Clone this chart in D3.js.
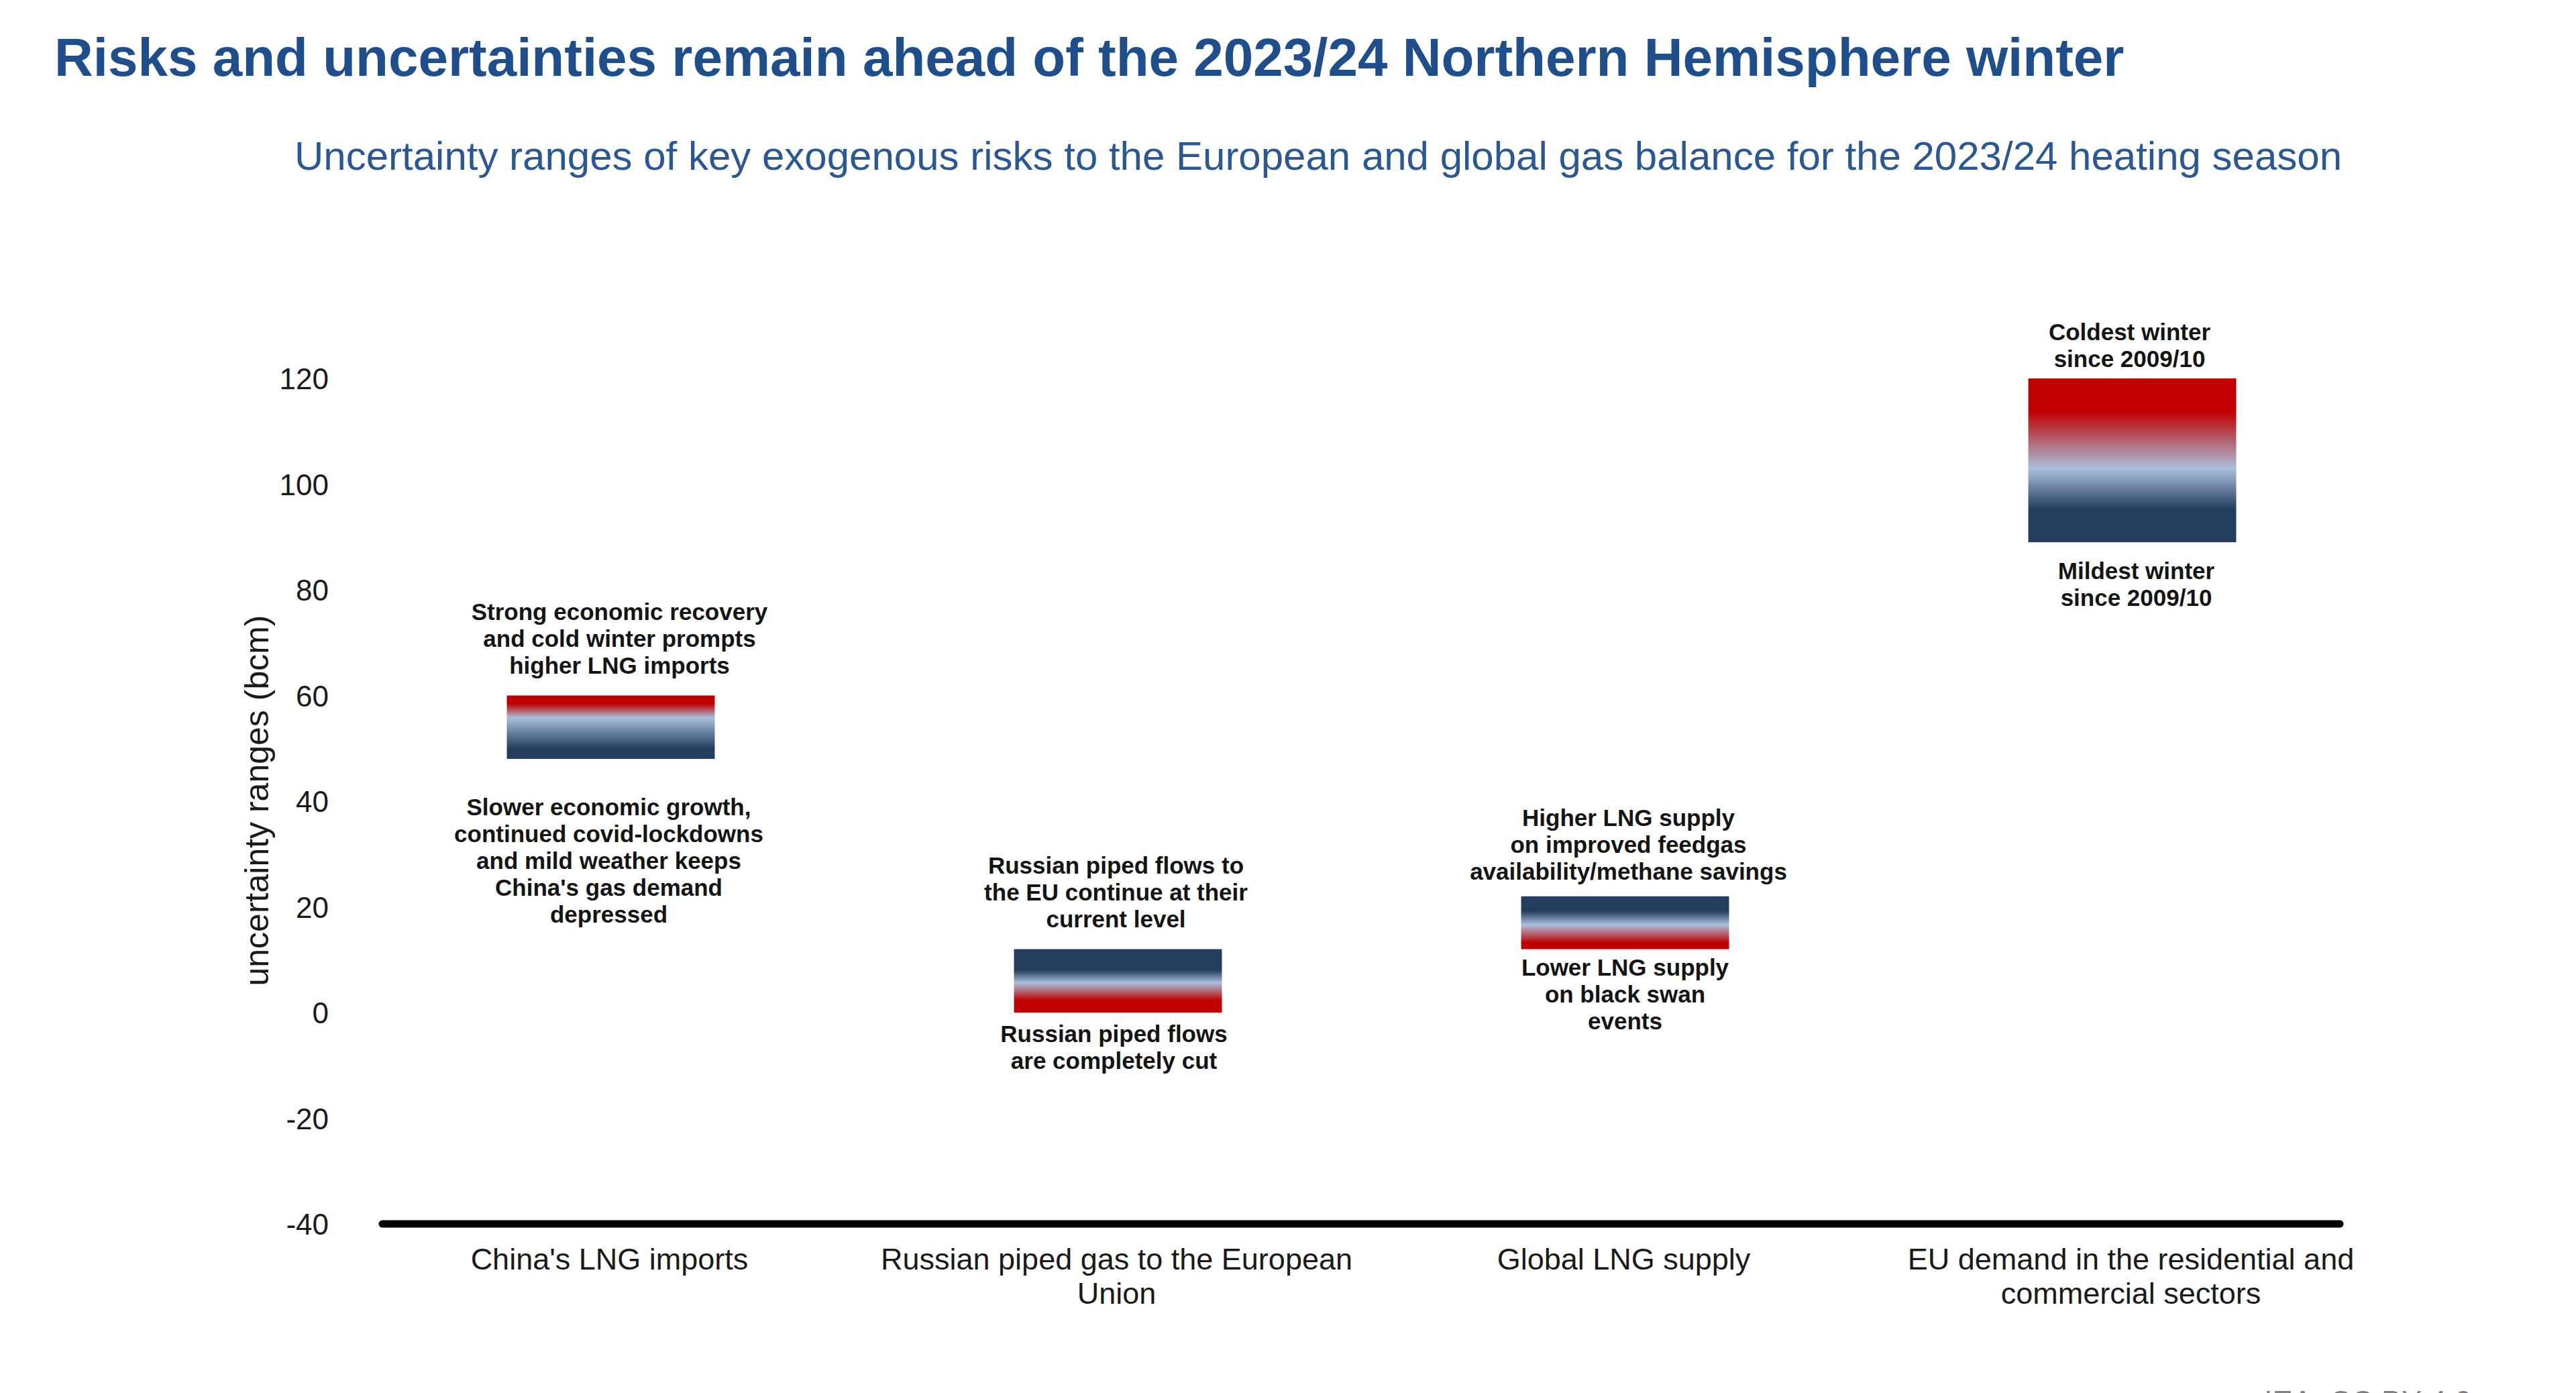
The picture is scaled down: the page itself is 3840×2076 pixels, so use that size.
<!DOCTYPE html>
<html>
<head>
<meta charset="utf-8">
<script src="https://cdn.jsdelivr.net/npm/d3@7"></script>
<style>
  html, body { margin: 0; padding: 0; background: #ffffff; }
  svg { display: block; }
  text { font-family: "Liberation Sans", Arial, Helvetica, sans-serif; }
</style>
</head>
<body>
<svg id="chart" width="3840" height="2076"></svg>
<script>
// ---------------- DATA ----------------
const categories = [
  "China's LNG imports",
  "Russian piped gas to the European Union",
  "Global LNG supply",
  "EU demand in the residential and commercial sectors"
];
const categoryLines = [
  ["China's LNG imports"],
  ["Russian piped gas to the European", "Union"],
  ["Global LNG supply"],
  ["EU demand in the residential and", "commercial sectors"]
];
const rangeLow  = [48, 0, 12, 89];
const rangeHigh = [60, 12, 22, 120];
const highLabels = [
  ["Strong economic recovery", "and cold winter prompts", "higher LNG imports"],
  ["Russian piped flows to", "the EU continue at their", "current level"],
  ["Higher LNG supply", "on improved feedgas", "availability/methane savings"],
  ["Coldest winter", "since 2009/10"]
];
const lowLabels = [
  ["Slower economic growth,", "continued covid-lockdowns", "and mild weather keeps", "China's gas demand", "depressed"],
  ["Russian piped flows", "are completely cut"],
  ["Lower LNG supply", "on black swan", "events"],
  ["Mildest winter", "since 2009/10"]
];
const yTicks = [-40, -20, 0, 20, 40, 60, 80, 100, 120];
const titleText = "Risks and uncertainties remain ahead of the 2023/24 Northern Hemisphere winter";
const subtitleText = "Uncertainty ranges of key exogenous risks to the European and global gas balance for the 2023/24 heating season";
const yAxisTitle = "uncertainty ranges (bcm)";
const sourceText = "IEA. CC BY 4.0.";

// ---------------- LAYOUT / STYLE ----------------
const RED = "#c00000", LIGHT = "#a9c0dd", NAVY = "#243c5d";
const topIsRed = [true, false, false, true];
// gradient shape per bar: [end of solid top colour, light-blue midpoint, start of solid bottom colour]
const gradShape = [[0.13, 0.35, 0.84], [0.33, 0.53, 0.81], [0.28, 0.54, 0.88], [0.20, 0.55, 0.80]];
const topGap = [45, 45, 37, 30];      // last line centre above bar top
const bottomGap = [71, 31, 27, 42];   // first line centre below bar bottom
const topDx = [13, -3, 5, -4];
const bottomDx = [-3, -6, 0, 6];
const annLineH = 40;

const svg = d3.select("#chart");
const defs = svg.append("defs");

const y = d3.scaleLinear().domain([-40, 120]).range([1824, 564]);
const x = d3.scaleBand().domain(categories)
  .range([532.5, 3556.5]).paddingInner(0.59).paddingOuter(0.295);

// Title and subtitle
svg.append("text").attr("x", 81).attr("y", 113)
  .attr("font-size", 80).attr("font-weight", "bold").attr("fill", "#1f4e8c")
  .text(titleText);
svg.append("text").attr("x", 1965).attr("y", 253).attr("text-anchor", "middle")
  .attr("font-size", 60).attr("fill", "#2a5795")
  .text(subtitleText);

// Y axis (labels only)
const yAxis = d3.axisLeft(y).tickValues(yTicks).tickSize(0).tickPadding(0).tickFormat(d => String(d));
const gy = svg.append("g").attr("transform", "translate(490,0)").call(yAxis);
gy.select(".domain").remove();
gy.selectAll("text").attr("font-size", 44).attr("fill", "#1a1a1a")
  .attr("font-family", "'Liberation Sans', Arial, sans-serif")
  .attr("dy", "0.36em");

svg.append("text")
  .attr("transform", "translate(400,1193) rotate(-90)")
  .attr("text-anchor", "middle").attr("font-size", 50).attr("fill", "#1a1a1a")
  .text(yAxisTitle);

// Gradients
categories.forEach((c, i) => {
  const [a, m, b] = gradShape[i];
  const top = topIsRed[i] ? RED : NAVY, bot = topIsRed[i] ? NAVY : RED;
  const g = defs.append("linearGradient").attr("id", "grad" + i)
    .attr("x1", 0).attr("y1", 0).attr("x2", 0).attr("y2", 1);
  [[0, top], [a, top], [m, LIGHT], [b, bot], [1, bot]].forEach(([o, col]) =>
    g.append("stop").attr("offset", o).attr("stop-color", col));
});

// Bars
const data = categories.map((c, i) => ({ c, i, lo: rangeLow[i], hi: rangeHigh[i] }));
svg.append("g").selectAll("rect").data(data).join("rect")
  .attr("x", d => x(d.c))
  .attr("width", x.bandwidth())
  .attr("y", d => y(d.hi))
  .attr("height", d => y(d.lo) - y(d.hi))
  .attr("fill", d => `url(#grad${d.i})`);

// Annotations
const ann = svg.append("g").attr("font-size", 35).attr("font-weight", "bold")
  .attr("fill", "#141414").attr("text-anchor", "middle");
data.forEach(d => {
  const cx = x(d.c) + x.bandwidth() / 2;
  const hl = highLabels[d.i], n = hl.length;
  hl.forEach((line, k) => {
    const centre = y(d.hi) - topGap[d.i] - (n - 1 - k) * annLineH;
    ann.append("text").attr("x", cx + topDx[d.i]).attr("y", centre + 12.5).text(line);
  });
  lowLabels[d.i].forEach((line, k) => {
    const centre = y(d.lo) + bottomGap[d.i] + k * annLineH;
    ann.append("text").attr("x", cx + bottomDx[d.i]).attr("y", centre + 12.5).text(line);
  });
});

// Baseline axis line at -40
svg.append("line").attr("x1", 570).attr("x2", 3488)
  .attr("y1", y(-40)).attr("y2", y(-40))
  .attr("stroke", "#000").attr("stroke-width", 11).attr("stroke-linecap", "round");

// Category labels
const xl = svg.append("g").attr("font-size", 45).attr("fill", "#1a1a1a").attr("text-anchor", "middle");
categories.forEach((c, i) => {
  categoryLines[i].forEach((line, k) => {
    xl.append("text").attr("x", x(c) + x.bandwidth() / 2 - 2)
      .attr("y", 1892 + k * 51).text(line);
  });
});

// Source (cut at the bottom edge, as in the reference)
svg.append("text").attr("x", 3375).attr("y", 2104).attr("font-size", 45)
  .attr("fill", "#7f7f7f").text(sourceText);
</script>
</body>
</html>
